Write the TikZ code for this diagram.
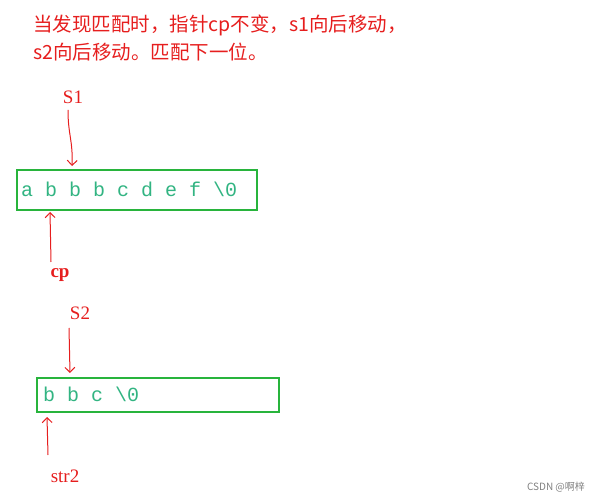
\documentclass[tikz,border=0pt]{standalone}
\usepackage{fontspec}
\setmainfont{Liberation Serif}
\setmonofont{Liberation Mono}
\newfontfamily\cjk{Noto Sans CJK SC}
\usetikzlibrary{arrows.meta}
\definecolor{mark}{RGB}{230,30,30}
\definecolor{box}{RGB}{40,180,60}
\definecolor{chars}{RGB}{50,180,130}
\begin{document}
\begin{tikzpicture}[x=1pt,y=-1pt]
  \useasboundingbox (0,0) rectangle (605,502);
  \tikzstyle{note}=[text=mark, anchor=west, inner sep=0pt, font=\cjk\fontsize{19.5}{20}\selectfont]
  \tikzstyle{ptr}=[text=mark, font=\fontsize{19}{20}\selectfont]
  \tikzstyle{cell}=[draw=box, line width=2pt, minimum height=40pt, anchor=north west, inner sep=0pt]
  \tikzstyle{str}=[text=chars, anchor=west, inner sep=0pt, font=\ttfamily\fontsize{20}{22}\selectfont]
  \tikzstyle{arrow}=[draw=mark, line width=1pt, -{Straight Barb[length=5pt]}]

  \node[note] (t1) at (33,25) {当发现匹配时，指针cp不变，s1向后移动，};
  \node[note] (t2) at (33,52) {s2向后移动。匹配下一位。};

  \node[cell, minimum width=240pt] (box1) at (16,169) {};
  \node[str] (s) at (21,189) {a b b b c d e f \textbackslash0};
  \node[cell, minimum width=242pt, minimum height=34pt] (box2) at (36,377) {};
  \node[str] (t) at (43,394) {b b c \textbackslash0};

  \node[ptr] (s1) at (73,97) {S1};
  \node[ptr, font=\bfseries\fontsize{19}{20}\selectfont] (cp) at (60,275) {cp};
  \node[ptr] (s2) at (80,313) {S2};
  \node[ptr] (str2) at (65,476) {str2};

  \coordinate (a1) at (72,166);
  \coordinate (a2) at (50,212);
  \coordinate (a3) at (70,373);
  \coordinate (a4) at (47,417);
  \coordinate (b1) at (68,110);
  \coordinate (b2) at (51,262);
  \coordinate (b3) at (69,328);
  \coordinate (b4) at (48,455);

  \draw[arrow] (b1) .. controls (68,135) and (73,140) .. (a1);
  \draw[arrow] (b2) -- (a2);
  \draw[arrow] (b3) -- (a3);
  \draw[arrow] (b4) -- (a4);

  \node[text=gray, font=\cjk\fontsize{10}{11}\selectfont] (w) at (556,487) {CSDN @啊梓};
\end{tikzpicture}
\end{document}
